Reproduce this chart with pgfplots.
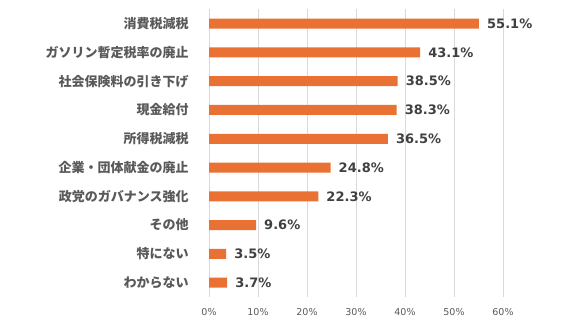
\documentclass[border=0pt]{standalone}
\usepackage{pgfplots}
\pgfplotsset{compat=1.18}
\usepackage{pgfplotstable}
\usepackage{fontspec}
\setmainfont{DejaVu Sans}
\newfontfamily\jp{Noto Sans CJK JP}
\definecolor{barorange}{HTML}{EA7134}
\definecolor{labgray}{HTML}{595959}
\definecolor{valgray}{HTML}{404040}
\definecolor{gridgray}{HTML}{D9D9D9}
\pgfplotstableread{
y x lab
0 55.1 55.1
1 43.1 43.1
2 38.5 38.5
3 38.3 38.3
4 36.5 36.5
5 24.8 24.8
6 22.3 22.3
7 9.6 9.6
8 3.5 3.5
9 3.7 3.7
}\datatable
\begin{document}
\begin{tikzpicture}[x=1pt,y=1pt]
\useasboundingbox (0,0) rectangle (564,331);
\begin{axis}[
  at={(209pt,34pt)}, anchor=south west,
  scale only axis, width=294pt, height=287.7pt,
  xbar, bar width=10pt,
  xmin=0, xmax=60, ymin=-0.5, ymax=9.5,
  y dir=reverse,
  ytick={0,...,9},
  yticklabels={消費税減税,ガソリン暫定税率の廃止,社会保険料の引き下げ,現金給付,所得税減税,企業・団体献金の廃止,政党のガバナンス強化,その他,特にない,わからない},
  yticklabel style={font=\jp\bfseries\fontsize{13}{13}\selectfont, text=labgray, inner sep=0pt, xshift=-16pt},
  xtick={0,10,...,60},
  xticklabel={\pgfmathprintnumber[assume math mode=true]{\tick}\%},
  xticklabel style={font=\fontsize{9.5}{9.5}\selectfont, text=labgray, inner sep=0pt, yshift=-11pt},
  xmajorgrids, grid style={gridgray, line width=0.8pt},
  axis line style={draw=none},
  tick style={draw=none},
  point meta=explicit symbolic,
  nodes near coords={\pgfplotspointmeta\%},
  nodes near coords style={font=\bfseries\fontsize{13}{13}\selectfont, text=valgray, inner sep=0pt, anchor=west, xshift=8pt},
]
\addplot[fill=barorange, draw=none] table[x=x, y=y, meta=lab] {\datatable};
\end{axis}
\end{tikzpicture}
\end{document}
